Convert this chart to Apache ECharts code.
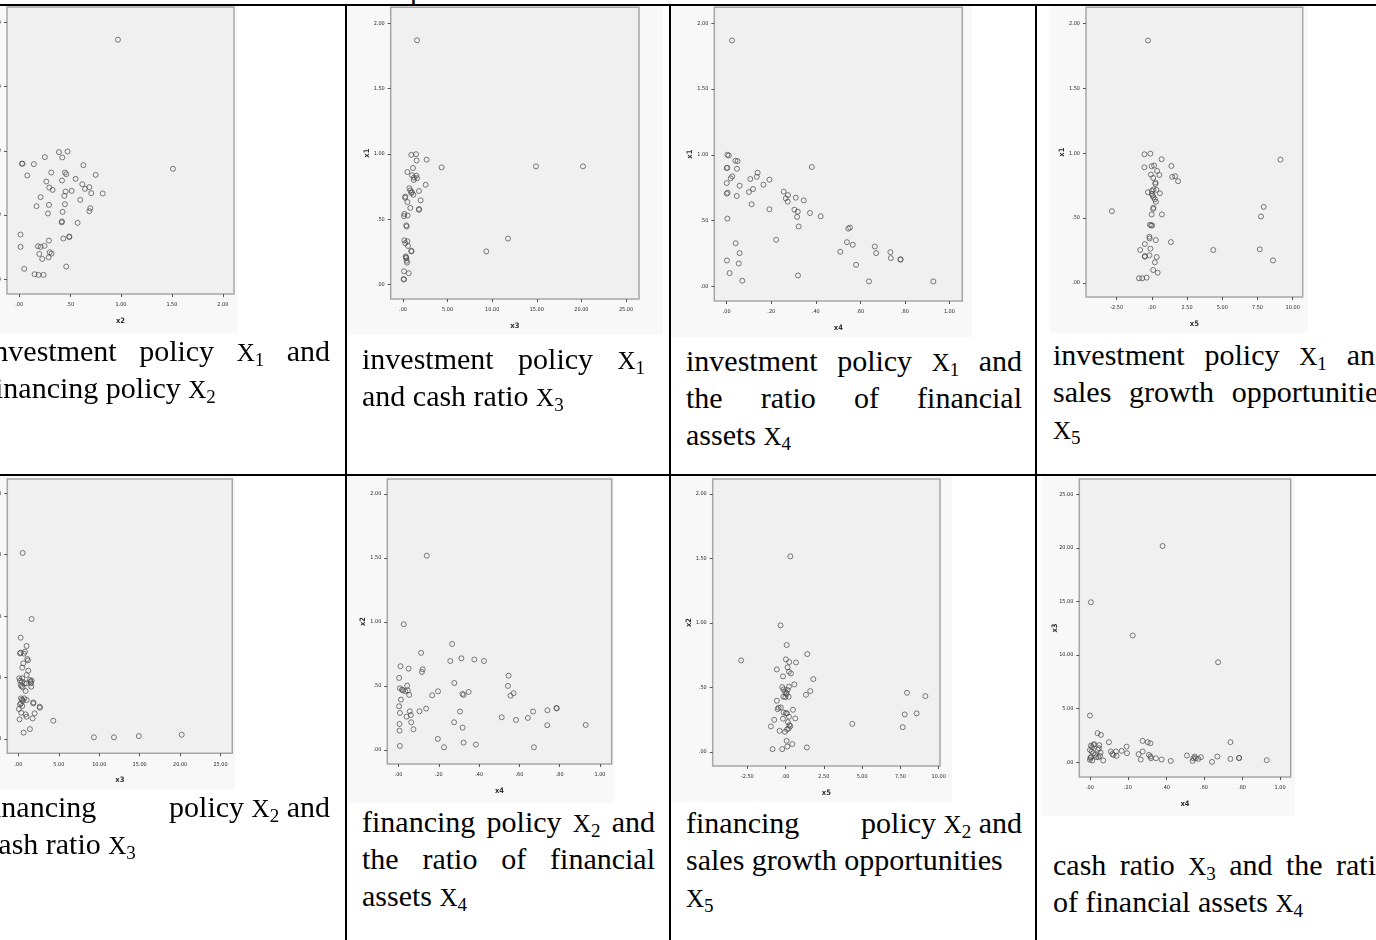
<!DOCTYPE html>
<html>
<head>
<meta charset="utf-8">
<script src="https://cdn.jsdelivr.net/npm/echarts@6/dist/echarts.min.js"></script>
<style>
html, body { margin: 0; padding: 0; background: #fff; }
body { width: 1376px; height: 940px; overflow: hidden; position: relative; }
.panel { position: absolute; }
.rule { position: absolute; background: #000; z-index: 5; }
.cap { position: absolute; font-family: "Liberation Serif", "Times New Roman", serif; font-size: 30px; line-height: 37px; color: #000; }
.cap div { white-space: nowrap; height: 37px; }
.cap .j { text-align: justify; text-align-last: justify; white-space: normal; }
.cap .sb { display: flex; justify-content: space-between; }
.cap .v { font-size: 25px; line-height: 0; }
.cap sub { font-size: 19px; line-height: 0; vertical-align: baseline; position: relative; top: 5px; }
.frag { position: absolute; font-family: "Liberation Serif", "Times New Roman", serif; font-size: 30px; line-height: 37px; }
</style>
</head>
<body>

<div class="frag" style="left:410px;top:-30px;">p</div>

<div id="c1" class="panel" style="left:-40px;top:6px;width:277px;height:327px;"></div>
<div id="c2" class="panel" style="left:347px;top:6px;width:316px;height:329px;"></div>
<div id="c3" class="panel" style="left:671px;top:6px;width:301px;height:331px;"></div>
<div id="c4" class="panel" style="left:1050px;top:6px;width:258px;height:327px;"></div>
<div id="c5" class="panel" style="left:-40px;top:476px;width:275px;height:314px;"></div>
<div id="c6" class="panel" style="left:347px;top:476px;width:267px;height:327px;"></div>
<div id="c7" class="panel" style="left:671px;top:476px;width:281px;height:326px;"></div>
<div id="c8" class="panel" style="left:1042px;top:476px;width:253px;height:340px;"></div>

<!-- table rules -->
<div class="rule" style="left:0;top:4px;width:1376px;height:2px;"></div>
<div class="rule" style="left:0;top:474px;width:1376px;height:2px;"></div>
<div class="rule" style="left:345px;top:4px;width:2px;height:936px;"></div>
<div class="rule" style="left:669px;top:4px;width:2px;height:936px;"></div>
<div class="rule" style="left:1035px;top:4px;width:2px;height:936px;"></div>

<!-- captions -->
<div class="cap" style="left:-15px;top:332px;width:345px;">
  <div class="j">investment policy <span class="v">X</span><sub>1</sub> and</div>
  <div>financing policy <span class="v">X</span><sub>2</sub></div>
</div>
<div class="cap" style="left:362px;top:340px;width:283px;">
  <div class="j">investment policy <span class="v">X</span><sub>1</sub></div>
  <div>and cash ratio <span class="v">X</span><sub>3</sub></div>
</div>
<div class="cap" style="left:686px;top:342px;width:336px;">
  <div class="j">investment policy <span class="v">X</span><sub>1</sub> and</div>
  <div class="j">the ratio of financial</div>
  <div>assets <span class="v">X</span><sub>4</sub></div>
</div>
<div class="cap" style="left:1053px;top:336px;width:337px;">
  <div class="j">investment policy <span class="v">X</span><sub>1</sub> and</div>
  <div class="j">sales growth opportunities</div>
  <div><span class="v">X</span><sub>5</sub></div>
</div>
<div class="cap" style="left:-17px;top:788px;width:347px;">
  <div class="sb"><span>financing</span><span>policy <span class="v">X</span><sub>2</sub> and</span></div>
  <div style="padding-left:2px;">cash ratio <span class="v">X</span><sub>3</sub></div>
</div>
<div class="cap" style="left:362px;top:803px;width:293px;">
  <div class="j">financing policy <span class="v">X</span><sub>2</sub> and</div>
  <div class="j">the ratio of financial</div>
  <div>assets <span class="v">X</span><sub>4</sub></div>
</div>
<div class="cap" style="left:686px;top:804px;width:336px;">
  <div class="sb"><span>financing</span><span>policy <span class="v">X</span><sub>2</sub> and</span></div>
  <div>sales growth opportunities</div>
  <div><span class="v">X</span><sub>5</sub></div>
</div>
<div class="cap" style="left:1053px;top:846px;width:338px;">
  <div class="j">cash ratio <span class="v">X</span><sub>3</sub> and the ratio</div>
  <div>of financial assets <span class="v">X</span><sub>4</sub></div>
</div>

<script>
// Tick values for each variable's axis
var ticksX1 = [0, 0.5, 1, 1.5, 2];
var ticksX2 = [0, 0.5, 1, 1.5, 2];
var ticksX3 = [0, 5, 10, 15, 20, 25];
var ticksX4 = [0, 0.2, 0.4, 0.6, 0.8, 1];
var ticksX5 = [-2.5, 0, 2.5, 5, 7.5, 10];

// x1 (investment policy) against x2 (financing policy)
var invFin = [[0.97,1.865],[1.51,0.86],[0.026,0.90],[0.033,0.90],[0.144,0.896],[0.252,0.951],[0.39,0.99],[0.475,0.995],[0.423,0.948],[0.63,0.888],[0.079,0.808],[0.315,0.831],[0.449,0.831],[0.462,0.818],[0.751,0.813],[0.266,0.761],[0.42,0.769],[0.554,0.782],[0.62,0.74],[0.646,0.704],[0.689,0.717],[0.295,0.714],[0.328,0.696],[0.456,0.683],[0.515,0.688],[0.708,0.67],[0.82,0.668],[0.443,0.649],[0.21,0.639],[0.60,0.618],[0.17,0.569],[0.292,0.579],[0.449,0.584],[0.282,0.512],[0.426,0.525],[0.698,0.553],[0.689,0.53],[0.42,0.45],[0.417,0.443],[0.574,0.439],[0.013,0.348],[0.292,0.301],[0.433,0.317],[0.492,0.333],[0.492,0.328],[0.013,0.252],[0.184,0.257],[0.21,0.252],[0.249,0.26],[0.30,0.21],[0.318,0.20],[0.197,0.197],[0.289,0.171],[0.226,0.158],[0.049,0.081],[0.462,0.099],[0.151,0.039],[0.19,0.034],[0.239,0.034]];

// x1 against x3 (cash ratio)
var invCash = [[1.57,1.869],[0.93,0.992],[1.46,0.997],[2.65,0.955],[1.53,0.949],[4.33,0.896],[14.91,0.904],[20.18,0.904],[0.49,0.861],[1.12,0.891],[1.0,0.836],[1.23,0.818],[1.49,0.833],[1.57,0.813],[1.2,0.80],[2.54,0.763],[0.71,0.737],[0.82,0.72],[1.0,0.707],[0.93,0.70],[1.16,0.687],[1.79,0.715],[0.26,0.672],[0.22,0.664],[0.49,0.631],[1.98,0.644],[0.82,0.586],[1.79,0.578],[1.79,0.571],[0.15,0.54],[0.11,0.523],[0.52,0.528],[0.37,0.452],[0.41,0.444],[0.15,0.338],[0.49,0.331],[0.26,0.316],[0.56,0.295],[0.93,0.258],[0.95,0.253],[0.30,0.215],[0.37,0.202],[0.34,0.207],[0.41,0.182],[0.45,0.167],[11.77,0.351],[9.34,0.253],[0.11,0.101],[0.64,0.086],[0.07,0.042],[0.11,0.038]];

// x1 against x4 (ratio of financial assets)
var invFinAssets = [[0.024,1.869],[0.003,1.0],[0.009,0.995],[0.039,0.955],[0.049,0.952],[0.0,0.899],[0.003,0.902],[0.046,0.894],[0.382,0.907],[0.139,0.864],[0.135,0.833],[0.025,0.836],[0.018,0.821],[0.106,0.816],[0.192,0.811],[0.0,0.785],[0.058,0.765],[0.165,0.773],[0.118,0.74],[0.10,0.717],[0.0,0.705],[0.004,0.712],[0.045,0.687],[0.256,0.72],[0.265,0.669],[0.274,0.644],[0.275,0.694],[0.31,0.674],[0.346,0.654],[0.112,0.624],[0.192,0.586],[0.304,0.583],[0.319,0.568],[0.374,0.558],[0.316,0.528],[0.422,0.533],[0.003,0.515],[0.323,0.455],[0.546,0.439],[0.554,0.447],[0.222,0.354],[0.04,0.328],[0.54,0.336],[0.566,0.316],[0.665,0.303],[0.058,0.253],[0.51,0.263],[0.671,0.253],[0.735,0.26],[0.737,0.215],[0.78,0.206],[0.781,0.203],[0.001,0.197],[0.054,0.174],[0.581,0.164],[0.013,0.101],[0.32,0.083],[0.07,0.043],[0.639,0.038],[0.928,0.038]];

// x1 against x5 (sales growth opportunities)
var invGrowth = [[-0.28,1.867],[-2.84,0.553],[-0.53,0.991],[-0.11,0.996],[0.69,0.953],[-0.53,0.891],[-0.02,0.899],[0.16,0.904],[1.38,0.901],[9.13,0.95],[0.37,0.863],[-0.07,0.835],[0.53,0.832],[0.09,0.809],[1.44,0.817],[1.65,0.822],[1.86,0.784],[0.25,0.773],[0.25,0.763],[-0.28,0.699],[0.0,0.709],[0.11,0.72],[0.32,0.717],[0.57,0.691],[0.0,0.686],[0.05,0.673],[0.11,0.661],[0.21,0.645],[0.28,0.625],[7.94,0.586],[0.11,0.579],[0.09,0.571],[-0.02,0.528],[0.71,0.528],[7.75,0.512],[-0.14,0.448],[-0.05,0.443],[0.02,0.443],[-0.18,0.356],[-0.16,0.343],[0.28,0.33],[-0.5,0.30],[1.35,0.315],[-0.11,0.264],[-0.83,0.254],[4.36,0.254],[7.66,0.259],[-0.5,0.207],[-0.5,0.202],[-0.18,0.213],[0.34,0.20],[0.21,0.159],[8.6,0.174],[0.09,0.10],[0.41,0.079],[-0.92,0.036],[-0.69,0.036],[-0.37,0.041]];

// x2 against x3
var finCash = [[0.52,1.514],[1.63,0.977],[0.27,0.825],[1.01,0.757],[0.19,0.697],[0.27,0.703],[0.80,0.711],[0.68,0.695],[1.09,0.651],[1.18,0.64],[0.60,0.616],[0.47,0.581],[1.22,0.556],[0.10,0.494],[0.19,0.475],[0.43,0.467],[0.47,0.494],[1.01,0.521],[0.27,0.44],[0.39,0.429],[0.52,0.421],[0.76,0.453],[1.01,0.453],[1.42,0.48],[1.51,0.467],[1.55,0.453],[1.63,0.475],[1.59,0.426],[0.89,0.391],[0.31,0.331],[0.43,0.32],[0.56,0.312],[0.72,0.331],[1.01,0.318],[0.19,0.282],[0.31,0.29],[0.47,0.269],[1.84,0.298],[1.84,0.29],[0.06,0.244],[0.35,0.214],[0.89,0.201],[1.01,0.182],[2.0,0.209],[2.62,0.263],[2.66,0.255],[1.75,0.168],[0.14,0.16],[4.31,0.149],[1.42,0.081],[0.64,0.052],[9.34,0.014],[11.82,0.014],[14.9,0.024],[20.2,0.035]];

// x2 against x4
var finFinAssets = [[0.14,1.518],[0.026,0.982],[0.266,0.828],[0.112,0.758],[0.01,0.654],[0.05,0.635],[0.12,0.63],[0.116,0.609],[0.257,0.695],[0.312,0.716],[0.376,0.706],[0.424,0.695],[0.003,0.5625],[0.546,0.58],[0.277,0.523],[0.043,0.503],[0.543,0.50],[0.007,0.482],[0.017,0.471],[0.021,0.466],[0.033,0.458],[0.046,0.464],[0.196,0.458],[0.348,0.453],[0.317,0.4375],[0.323,0.43],[0.571,0.443],[0.556,0.424],[0.053,0.43],[0.167,0.427],[0.012,0.393],[0.003,0.341],[0.007,0.289],[0.056,0.302],[0.061,0.273],[0.104,0.302],[0.137,0.323],[0.305,0.30],[0.668,0.30],[0.739,0.31],[0.784,0.328],[0.785,0.324],[0.04,0.26],[0.512,0.255],[0.583,0.234],[0.642,0.25],[0.063,0.216],[0.276,0.216],[0.005,0.203],[0.005,0.151],[0.074,0.161],[0.318,0.174],[0.738,0.193],[0.929,0.195],[0.195,0.086],[0.323,0.057],[0.384,0.042],[0.007,0.031],[0.226,0.021],[0.672,0.021]];

// x2 against x5
var finGrowth = [[0.31,1.516],[-0.33,0.981],[0.07,0.828],[1.42,0.758],[-2.9,0.709],[0.02,0.717],[0.24,0.696],[0.68,0.693],[-0.57,0.639],[0.13,0.655],[0.22,0.621],[0.35,0.608],[-0.17,0.585],[1.81,0.564],[0.57,0.523],[-0.22,0.502],[-0.13,0.484],[-0.04,0.466],[0.04,0.458],[0.13,0.479],[0.22,0.505],[0.07,0.448],[0.20,0.427],[1.61,0.471],[1.33,0.442],[7.93,0.458],[9.13,0.432],[-0.15,0.427],[-0.02,0.424],[-0.57,0.396],[-0.52,0.331],[-0.46,0.342],[-0.31,0.344],[-0.13,0.305],[0.02,0.30],[0.09,0.298],[0.48,0.326],[-0.74,0.248],[-0.17,0.256],[0.22,0.272],[0.63,0.259],[7.78,0.29],[8.56,0.298],[-0.96,0.197],[0.15,0.23],[0.24,0.207],[0.31,0.199],[0.20,0.181],[0.09,0.173],[-0.39,0.163],[-0.04,0.155],[4.36,0.217],[7.65,0.191],[0.07,0.085],[-0.85,0.021],[-0.22,0.021],[0.11,0.041],[0.44,0.06],[1.39,0.034]];

// x3 against x4
var cashFinAssets = [[0.382,20.18],[0.005,14.93],[0.225,11.82],[0.674,9.33],[0.0,4.35],[0.04,2.71],[0.058,2.55],[0.10,1.87],[0.277,1.99],[0.304,1.87],[0.318,1.77],[0.193,1.46],[0.739,1.87],[0.005,1.55],[0.011,1.40],[0.018,1.62],[0.023,1.68],[0.0,1.15],[0.009,1.0],[0.018,0.84],[0.005,0.47],[0.012,0.16],[0.049,1.59],[0.047,1.31],[0.042,1.15],[0.056,0.90],[0.053,0.59],[0.044,0.47],[0.07,0.16],[0.11,1.0],[0.118,0.78],[0.123,0.68],[0.137,1.0],[0.14,0.59],[0.167,1.06],[0.195,0.84],[0.256,0.75],[0.267,0.25],[0.277,1.0],[0.31,0.68],[0.319,0.53],[0.321,0.37],[0.347,0.37],[0.377,0.25],[0.425,0.12],[0.51,0.62],[0.544,0.37],[0.551,0.53],[0.556,0.37],[0.54,0.12],[0.57,0.31],[0.584,0.47],[0.642,0.03],[0.67,0.53],[0.739,0.31],[0.784,0.40],[0.785,0.39],[0.93,0.19],[0.028,0.68],[0.033,0.47],[0.0,0.22],[0.002,0.40]];

var NARROW = '"Liberation Sans Narrow", "Arial Narrow", "DejaVu Sans Condensed", sans-serif';

// SPSS-style number format: ".50", "1.00", "-2.50"
function spss(v) {
  var s = Math.abs(v).toFixed(2);
  if (s.charAt(0) === '0') s = s.slice(1);
  return (v < 0 ? '-' : '') + s;
}

function makeAxis(range, ticks, name, isY) {
  return {
    type: 'value',
    min: range[0],
    max: range[1],
    name: name,
    nameLocation: 'middle',
    nameGap: isY ? 20 : 23,
    nameMoveOverlap: false,
    nameRotate: isY ? 90 : 0,
    nameTextStyle: { fontFamily: NARROW, fontSize: 7.5, fontWeight: 'bold', color: '#333' },
    axisLine: { show: false, onZero: false },
    splitLine: { show: false },
    axisTick: { show: true, length: 3, customValues: ticks, lineStyle: { color: '#555', width: 1 } },
    axisLabel: { customValues: ticks, formatter: spss, fontSize: 5.5, fontFamily: NARROW, color: '#2a2a2a', margin: isY ? 6 : 8 }
  };
}

var panels = [
  { id: 'c1', grid: [47, 1, 227, 287],      xr: [-0.12, 2.11],    yr: [-0.115, 2.12],  xt: ticksX2, yt: ticksX1, xn: 'x2', yn: 'x1', data: invFin },
  { id: 'c2', grid: [43.7, 1.3, 248.3, 294.7], xr: [-1.38, 26.46], yr: [-0.111, 2.121], xt: ticksX3, yt: ticksX1, xn: 'x3', yn: 'x1', data: invCash },
  { id: 'c3', grid: [43.3, 1.3, 248, 295],  xr: [-0.0557, 1.058], yr: [-0.111, 2.121], xt: ticksX4, yt: ticksX1, xn: 'x4', yn: 'x1', data: invFinAssets },
  { id: 'c4', grid: [29, 1.3, 223.7, 290.4], xr: [-4.68, 10.71],   yr: [-0.108, 2.123], xt: ticksX5, yt: ticksX1, xn: 'x5', yn: 'x1', data: invGrowth },
  { id: 'c5', grid: [47.3, 3, 225, 274.3],  xr: [-1.38, 26.46],   yr: [-0.116, 2.116], xt: ticksX3, yt: ticksX2, xn: 'x3', yn: 'x2', data: finCash },
  { id: 'c6', grid: [40.3, 3, 224.4, 285],  xr: [-0.0557, 1.058], yr: [-0.11, 2.117],  xt: ticksX4, yt: ticksX2, xn: 'x4', yn: 'x2', data: finFinAssets },
  { id: 'c7', grid: [41.7, 3, 227.3, 287],  xr: [-4.76, 10.085],  yr: [-0.11, 2.116],  xt: ticksX5, yt: ticksX2, xn: 'x5', yn: 'x2', data: finGrowth },
  { id: 'c8', grid: [37.3, 3, 211.4, 298],  xr: [-0.056, 1.056],  yr: [-1.38, 26.43],  xt: ticksX4, yt: ticksX3, xn: 'x4', yn: 'x3', data: cashFinAssets }
];

panels.forEach(function (p) {
  var chart = echarts.init(document.getElementById(p.id), null, { renderer: 'canvas' });
  chart.setOption({
    animation: false,
    backgroundColor: '#f8f8f8',
    grid: {
      left: p.grid[0], top: p.grid[1], width: p.grid[2], height: p.grid[3],
      show: true, backgroundColor: '#f0f0f0', borderColor: '#a6a6a6', borderWidth: 1.5
    },
    xAxis: makeAxis(p.xr, p.xt, p.xn, false),
    yAxis: makeAxis(p.yr, p.yt, p.yn, true),
    series: [{
      type: 'scatter',
      data: p.data,
      symbol: 'circle',
      symbolSize: 5,
      clip: false,
      silent: true,
      itemStyle: { color: 'rgba(0,0,0,0)', borderColor: '#4a4a4a', borderWidth: 0.9 }
    }]
  });
});
</script>
</body>
</html>
